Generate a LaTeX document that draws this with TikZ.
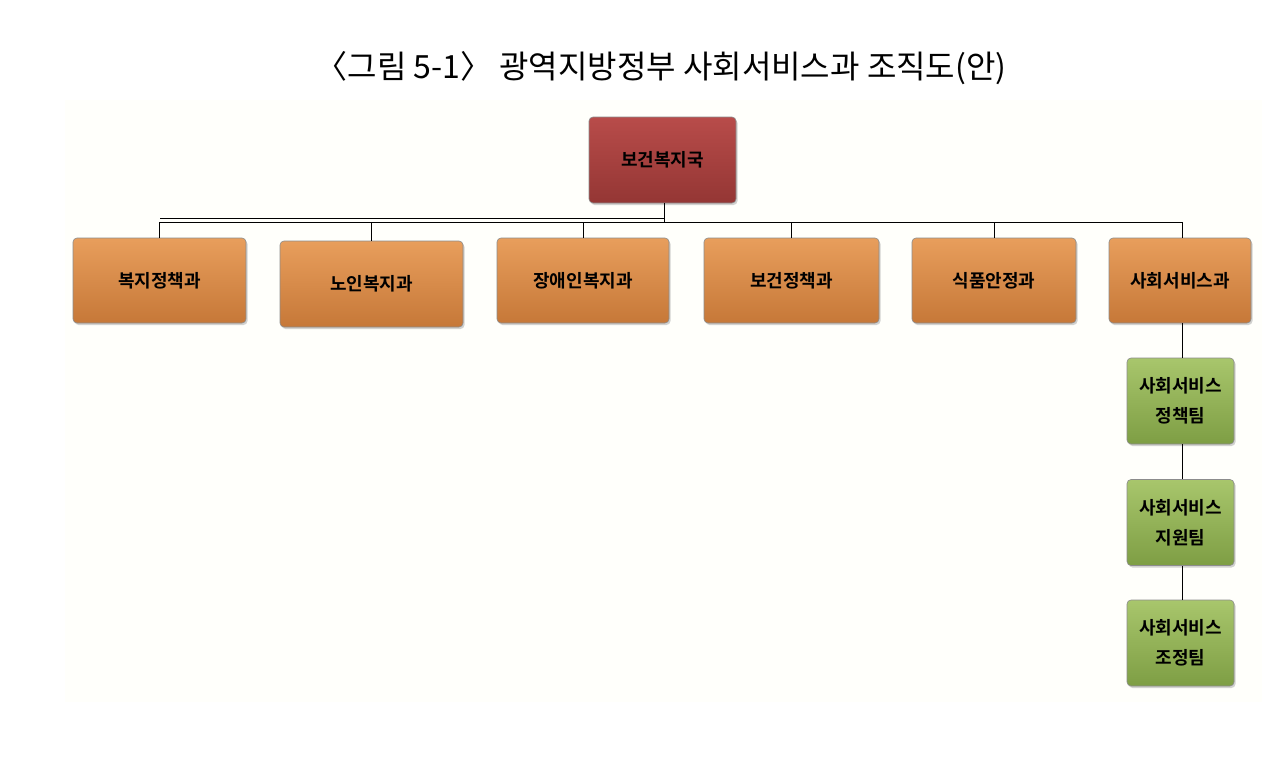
\documentclass[tikz,border=0pt]{standalone}
\usepackage{fontspec}
\setmainfont{Noto Sans CJK KR}
\newfontfamily\kb{Noto Sans CJK KR Bold}
\usetikzlibrary{shadows}
\definecolor{redtop}{HTML}{B84C4A}\definecolor{redbot}{HTML}{943634}
\definecolor{ortop}{HTML}{E89E5C}\definecolor{orbot}{HTML}{C67838}
\definecolor{grtop}{HTML}{A8C66C}\definecolor{grbot}{HTML}{7E9E44}
\tikzset{
 box/.style={rounded corners=4pt,draw=black!45,line width=0.6pt,drop shadow={shadow xshift=1.5pt,shadow yshift=-2pt,opacity=0.35},align=center,font=\kb\fontsize{18}{30}\selectfont,text=black},
 redb/.style={box,top color=redtop,bottom color=redbot},
 orb/.style={box,top color=ortop,bottom color=orbot},
 grb/.style={box,top color=grtop,bottom color=grbot},
 ln/.style={draw=black,line width=0.9pt}
}
\begin{document}
\begin{tikzpicture}[x=1pt,y=-1pt]
\useasboundingbox (0,0) rectangle (1280,761);
\fill[white] (0,0) rectangle (1280,761);
\fill[yellow!1.5!white] (65,100) rectangle (1262,702);
\node[font=\fontsize{32}{36}\selectfont] (title) at (661,68) {〈그림 5-1〉 광역지방정부 사회서비스과 조직도(안)};
\node[redb,minimum width=147pt,minimum height=86pt] (top) at (662.5,160) {보건복지국};
\node[orb,minimum width=173pt,minimum height=85pt] (a) at (159.5,280.5) {복지정책과};
\node[orb,minimum width=183pt,minimum height=86pt] (b) at (371.5,284) {노인복지과};
\node[orb,minimum width=172pt,minimum height=85pt] (c) at (583,280.5) {장애인복지과};
\node[orb,minimum width=175pt,minimum height=85pt] (d) at (791.5,280.5) {보건정책과};
\node[orb,minimum width=164pt,minimum height=85pt] (e) at (994,280.5) {식품안정과};
\node[orb,minimum width=142pt,minimum height=85pt] (f) at (1180,280.5) {사회서비스과};
\node[grb,minimum width=107pt,minimum height=86pt] (g1) at (1180.5,401) {사회서비스\\정책팀};
\node[grb,minimum width=107pt,minimum height=86pt] (g2) at (1180.5,522.5) {사회서비스\\지원팀};
\node[grb,minimum width=107pt,minimum height=86pt] (g3) at (1180.5,643) {사회서비스\\조정팀};
\coordinate (j) at (664,222);
\coordinate (k) at (1182,0);
\draw[ln] (top.south -| j) -- (j);
\draw[ln] (160,218) -- (664,218);
\draw[ln] (a.north) -- (a.north |- j) -- (k |- j) -- (k |- f.north);
\foreach \n in {b,c,d,e}{\draw[ln] (\n.north) -- (\n.north |- j);}
\draw[ln] (k |- f.south) -- (k |- g1.north);
\draw[ln] (k |- g1.south) -- (k |- g2.north);
\draw[ln] (k |- g2.south) -- (k |- g3.north);
\end{tikzpicture}
\end{document}
